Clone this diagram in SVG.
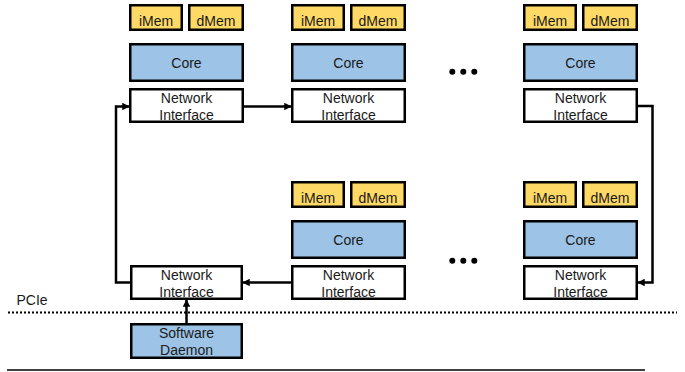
<svg xmlns="http://www.w3.org/2000/svg" width="685" height="372" viewBox="0 0 685 372">
<defs>
<style>
.mem{fill:#FFD966;stroke:#000;stroke-width:2.5}
.core{fill:#9DC3E6;stroke:#000;stroke-width:2.5}
.ni{fill:#fff;stroke:#000;stroke-width:2.5}
text{font-family:"Liberation Sans",Arial,sans-serif;font-size:14px;fill:#1a1a1a;text-anchor:middle}
.con{fill:none;stroke:#000;stroke-width:2.5}
</style>
<marker id="ah" viewBox="0 0 10 10" refX="9" refY="5" markerWidth="3" markerHeight="3" orient="auto" markerUnits="strokeWidth">
<path d="M0,0 L10,5 L0,10 z" fill="#000"/>
</marker>
</defs>
<rect width="685" height="372" fill="#fff"/>

<g id="tile1">
<rect class="mem" x="130.25" y="5.25" width="51.5" height="24.5"/><text x="156" y="26">iMem</text>
<rect class="mem" x="189.25" y="5.25" width="53.5" height="24.5"/><text x="216" y="26">dMem</text>
<rect class="core" x="130.25" y="44.25" width="112.5" height="36.5"/><text x="186.5" y="68">Core</text>
<rect class="ni" x="130.25" y="89.25" width="112.5" height="32.5"/><text x="186.5" y="103">Network</text><text x="186.5" y="120">Interface</text>
</g>
<g id="tile2">
<rect class="mem" x="292.25" y="5.25" width="51.5" height="24.5"/><text x="318" y="26">iMem</text>
<rect class="mem" x="351.25" y="5.25" width="53.5" height="24.5"/><text x="378" y="26">dMem</text>
<rect class="core" x="292.25" y="44.25" width="112.5" height="36.5"/><text x="348.5" y="68">Core</text>
<rect class="ni" x="292.25" y="89.25" width="112.5" height="32.5"/><text x="348.5" y="103">Network</text><text x="348.5" y="120">Interface</text>
</g>
<g id="tile3">
<rect class="mem" x="524.25" y="5.25" width="51.5" height="24.5"/><text x="550" y="26">iMem</text>
<rect class="mem" x="583.25" y="5.25" width="53.5" height="24.5"/><text x="610" y="26">dMem</text>
<rect class="core" x="524.25" y="44.25" width="112.5" height="36.5"/><text x="580.5" y="68">Core</text>
<rect class="ni" x="524.25" y="89.25" width="112.5" height="32.5"/><text x="580.5" y="103">Network</text><text x="580.5" y="120">Interface</text>
</g>
<g id="tile4">
<rect class="mem" x="292.25" y="182.25" width="51.5" height="24.5"/><text x="318" y="203">iMem</text>
<rect class="mem" x="351.25" y="182.25" width="53.5" height="24.5"/><text x="378" y="203">dMem</text>
<rect class="core" x="292.25" y="221.25" width="112.5" height="36.5"/><text x="348.5" y="245">Core</text>
<rect class="ni" x="292.25" y="266.25" width="112.5" height="32.5"/><text x="348.5" y="280">Network</text><text x="348.5" y="297">Interface</text>
</g>
<g id="tile5">
<rect class="mem" x="524.25" y="182.25" width="51.5" height="24.5"/><text x="550" y="203">iMem</text>
<rect class="mem" x="583.25" y="182.25" width="53.5" height="24.5"/><text x="610" y="203">dMem</text>
<rect class="core" x="524.25" y="221.25" width="112.5" height="36.5"/><text x="580.5" y="245">Core</text>
<rect class="ni" x="524.25" y="266.25" width="112.5" height="32.5"/><text x="580.5" y="280">Network</text><text x="580.5" y="297">Interface</text>
</g>
<g id="host-ni">
<rect class="ni" x="131.25" y="266.25" width="110.5" height="32.5"/><text x="186.5" y="280">Network</text><text x="186.5" y="297">Interface</text>
</g>
<g id="daemon">
<rect class="core" x="131.25" y="324.25" width="110.5" height="33.5"/><text x="186.5" y="337.5">Software</text><text x="186.5" y="355">Daemon</text>
</g>
<g id="ellipsis">
<circle cx="452.3" cy="71.7" r="3"/><circle cx="463.3" cy="71.7" r="3"/><circle cx="474.3" cy="71.7" r="3"/>
<circle cx="452.3" cy="260.7" r="3"/><circle cx="463.3" cy="260.7" r="3"/><circle cx="474.3" cy="260.7" r="3"/>
</g>
<g id="connectors">
<path class="con" d="M130,282.5 H116 V106.5 H129" marker-end="url(#ah)"/>
<path class="con" d="M244,106.5 H291" marker-end="url(#ah)"/>
<path class="con" d="M638,106 H652.5 V282.5 H638" marker-end="url(#ah)"/>
<path class="con" d="M292,282.5 H243" marker-end="url(#ah)"/>
<path class="con" d="M186.5,323 V300" marker-end="url(#ah)"/>
</g>
<g id="pcie">
<text x="16.5" y="305" style="text-anchor:start">PCIe</text>
<line x1="8" y1="312.5" x2="677" y2="312.5" stroke="#000" stroke-width="2.2" stroke-dasharray="2 2"/>
<line x1="7" y1="370" x2="645" y2="370" stroke="#000" stroke-width="1.5"/>
</g>
</svg>
